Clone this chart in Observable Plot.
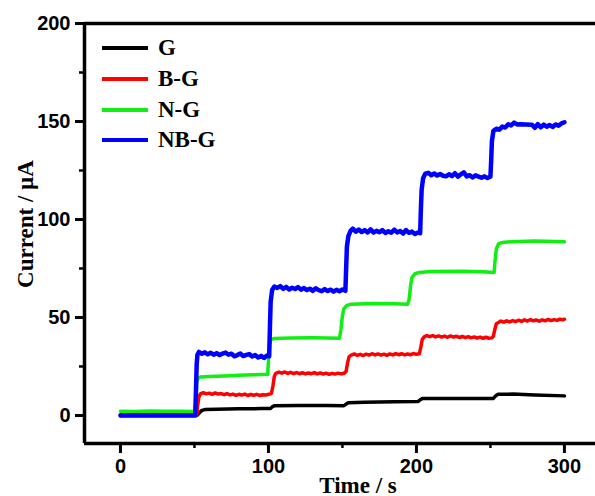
<!DOCTYPE html>
<html>
<head>
<meta charset="utf-8">
<script src="https://cdn.jsdelivr.net/npm/d3@7"></script>
<script src="https://cdn.jsdelivr.net/npm/@observablehq/plot@0.6"></script>
<style>
  body { margin: 0; background: white; }
  #wrap { position: relative; width: 595px; height: 496px; overflow: hidden; }
  #legend { position: absolute; left: 102px; top: 33px; font-family: "Liberation Serif", "Times New Roman", serif; font-weight: bold; font-size: 23px; color: black; }
  .row { display: flex; align-items: center; height: 30.7px; }
  .sw { width: 46px; height: 4px; margin-right: 10px; }
</style>
</head>
<body>
<div id="wrap"><div id="legend"></div></div>
<script>
const seriesNames = ["G", "B-G", "N-G", "NB-G"];
const seriesColors = ["#000000", "#ff0000", "#11ee11", "#0000ff"];
const seriesWidths = [3.5, 3.5, 3.5, 4.5];

const xTicksMajor = [0, 100, 200, 300];
const xTicksMinor = [50, 150, 250];
const yTicksMajor = [0, 50, 100, 150, 200];
const yTicksMinor = [25, 75, 125, 175];
const xDomain = [-24.3, 321];
const yDomain = [-14.3, 200];

// [time (s), current (µA)]
const gPoints = [[0,0.2],[52,0.2],[53.5,1.5],[55,2.6],[57,3.0],[65,3.2],[80,3.4],[95,3.5],[101.5,3.6],[102.5,4.4],[104,5.0],[120,5.1],[140,5.1],[151,5.0],[152.5,5.8],[154,6.5],[165,6.8],[185,7.0],[201,7.1],[202.5,8.0],[204,8.6],[225,8.7],[245,8.6],[252,8.7],[253.5,10.0],[255,10.8],[265,10.9],[280,10.4],[300,10.0]];

const bgPoints = [[0,0],[51.5,0],[52,4],[53,9.5],[54,11],[56,11.6],[58,11],[60,11.4],[62,10.8],[64,11.5],[66,10.9],[68,11.2],[70,10.6],[72,11.1],[74,10.5],[76,10.9],[78,10.3],[80,10.8],[82,10.4],[84,10.9],[86,10.2],[88,10.7],[90,10.3],[92,10.8],[94,10.2],[96,10.6],[98,10.4],[100,10.8],[102,11.2],[103,15],[104,20],[105,21.5],[107,22.1],[109,21.6],[111,22.2],[113,21.5],[115,22.0],[117,21.4],[119,21.9],[121,21.3],[123,21.8],[125,21.2],[127,21.7],[129,21.3],[131,21.9],[133,21.2],[135,21.7],[137,21.1],[139,21.6],[141,21.0],[143,21.5],[145,21.1],[147,21.6],[149,21.2],[151,21.5],[152.5,22.5],[153.5,27],[154.5,30],[156,30.8],[158,31.4],[160,30.7],[162,31.2],[164,30.6],[166,31.3],[168,30.8],[170,31.5],[172,30.9],[174,31.4],[176,30.8],[178,31.3],[180,30.7],[182,31.4],[184,30.9],[186,31.6],[188,31.0],[190,31.5],[192,30.9],[194,31.4],[196,31.0],[198,31.6],[200,31.2],[202,31.5],[203,35],[204,39],[205.5,40.3],[207,40.8],[209,40.2],[211,40.7],[213,40.1],[215,40.6],[217,40.0],[219,40.5],[221,39.9],[223,40.6],[225,40.0],[227,40.4],[229,39.8],[231,40.3],[233,39.7],[235,40.2],[237,39.6],[239,40.1],[241,39.5],[243,40.0],[245,39.4],[247,39.9],[249,39.4],[251,39.6],[252,40.5],[253,44],[254,46.8],[255.5,47.5],[257,48.2],[259,47.6],[261,48.3],[263,47.7],[265,48.4],[267,47.9],[269,48.6],[271,48.0],[273,48.8],[275,48.2],[277,48.9],[279,48.3],[281,48.7],[283,48.1],[285,48.8],[287,48.3],[289,49.0],[291,48.4],[293,48.9],[295,48.5],[297,49.1],[299,48.8],[300,49.1]];

const ngPoints = [[0,2.2],[10,2.0],[20,2.3],[30,2.1],[40,2.2],[50.5,2.0],[51,8],[51.5,17],[52.5,19],[54,19.6],[60,19.9],[70,20.2],[80,20.5],[90,20.8],[99.5,21.0],[100,28],[100.7,36],[101.5,38.6],[104,39.3],[115,39.5],[130,39.6],[140,39.5],[148,39.4],[149,44],[150,51],[151,54.5],[153,56.2],[156,56.8],[170,57.1],[185,57.0],[194,56.8],[195,59],[196,66],[197,70.5],[199,72.3],[202,73.0],[210,73.4],[230,73.6],[245,73.3],[252.5,73.0],[253,78],[254,85],[255.5,87.6],[258,88.3],[265,88.7],[280,89.0],[300,88.6]];

const nbgPoints = [[0,0],[10,0.1],[20,0],[30,0.1],[40,0],[50.5,0],[51,12],[51.5,26],[52,31],[53,32.4],[55,31.5],[57,32.2],[59,31.2],[61,32.0],[63,31.0],[65,31.8],[67,30.8],[69,31.6],[71,32.1],[73,31.0],[75,31.5],[77,30.2],[79,30.8],[81,31.6],[83,30.3],[85,30.9],[87,31.3],[89,30.1],[91,30.8],[93,29.6],[95,30.4],[97,29.3],[99,30.6],[100.5,30.2],[101,45],[101.5,58],[102.5,64],[104,65.8],[106,65.1],[108,66.0],[110,64.6],[112,65.6],[114,64.3],[116,65.2],[118,64.5],[120,65.5],[122,64.2],[124,65.0],[126,64.0],[128,64.7],[130,63.6],[132,64.9],[134,63.9],[136,63.4],[138,64.5],[140,63.5],[142,64.2],[144,63.2],[146,64.1],[148,63.4],[150,64.3],[152,63.6],[152.5,75],[153,86],[154,91.5],[155.5,94.2],[157,95.3],[159,93.8],[161,94.9],[163,93.6],[165,94.6],[167,93.4],[169,95.0],[171,93.3],[173,94.2],[175,93.5],[177,94.6],[179,93.1],[181,94.0],[183,93.2],[185,94.8],[187,93.4],[189,94.1],[191,92.8],[193,94.6],[195,93.2],[197,93.8],[199,92.6],[201,93.4],[202.5,93.0],[203,105],[203.5,115],[204.5,121],[206,123.4],[208,123.8],[210,122.6],[212,123.5],[214,122.4],[216,123.2],[218,122.3],[220,122.0],[222,123.1],[224,122.1],[226,123.6],[228,121.9],[230,123.0],[232,124.0],[234,122.0],[236,122.6],[238,121.4],[240,122.5],[242,121.9],[244,121.3],[246,122.0],[248,121.2],[250,121.8],[250.5,130],[251,140],[252,145.2],[254,146.3],[256,145.8],[258,147.4],[260,146.9],[262,148.6],[264,148.0],[266,149.4],[268,148.5],[270,148.6],[274,148.5],[278,148.4],[280,146.8],[282,148.7],[284,147.0],[286,148.4],[288,147.3],[290,148.2],[292,147.2],[294,148.5],[296,147.9],[298,149.0],[300,149.6]];

const allSeries = [gPoints, bgPoints, ngPoints, nbgPoints];

const sansBold = {fontSize: 20, fontWeight: "bold", fontFamily: "'Liberation Sans', Arial, sans-serif"};
const serifBold = {fontSize: 23, fontWeight: "bold", fontFamily: "'Liberation Serif', 'Times New Roman', serif", fill: "black"};

const lineMarks = allSeries.map((pts, i) =>
  Plot.line(pts, {x: d => d[0], y: d => d[1], stroke: seriesColors[i], strokeWidth: seriesWidths[i], strokeLinejoin: "round", strokeLinecap: "round"})
);

const chart = Plot.plot({
  width: 595,
  height: 496,
  marginLeft: 84,
  marginRight: 0,
  marginTop: 23,
  marginBottom: 53,
  x: {domain: xDomain},
  y: {domain: yDomain},
  style: {background: "white", color: "black"},
  marks: [
    ...lineMarks,
    Plot.axisY(yTicksMajor, {tickSize: 9, tickPadding: 5, strokeWidth: 3, label: null, ...sansBold}),
    Plot.axisY(yTicksMinor, {tickSize: 5, strokeWidth: 2.5, label: null, tickFormat: () => ""}),
    Plot.axisX(xTicksMajor, {tickSize: 10, tickPadding: 5, strokeWidth: 3, label: null, ...sansBold}),
    Plot.axisX(xTicksMinor, {tickSize: 5, strokeWidth: 2.5, label: null, tickFormat: () => ""}),
    Plot.ruleX([xDomain[0]], {strokeWidth: 3.5}),
    Plot.ruleY([yDomain[0], yDomain[1]], {strokeWidth: 3.5}),
    Plot.text(["Current / µA"], {frameAnchor: "left", textAnchor: "middle", lineAnchor: "middle", rotate: -90, dx: -59, dy: -9.5, ...serifBold}),
    Plot.text(["Time / s"], {frameAnchor: "bottom", textAnchor: "middle", lineAnchor: "bottom", dx: 18, dy: 49, ...serifBold})
  ]
});

const wrap = document.getElementById("wrap");
wrap.insertBefore(chart, wrap.firstChild);

const legend = document.getElementById("legend");
seriesNames.forEach((name, i) => {
  const row = document.createElement("div");
  row.className = "row";
  const sw = document.createElement("div");
  sw.className = "sw";
  sw.style.background = seriesColors[i];
  const label = document.createElement("span");
  label.textContent = name;
  row.appendChild(sw);
  row.appendChild(label);
  legend.appendChild(row);
});
</script>
</body>
</html>
